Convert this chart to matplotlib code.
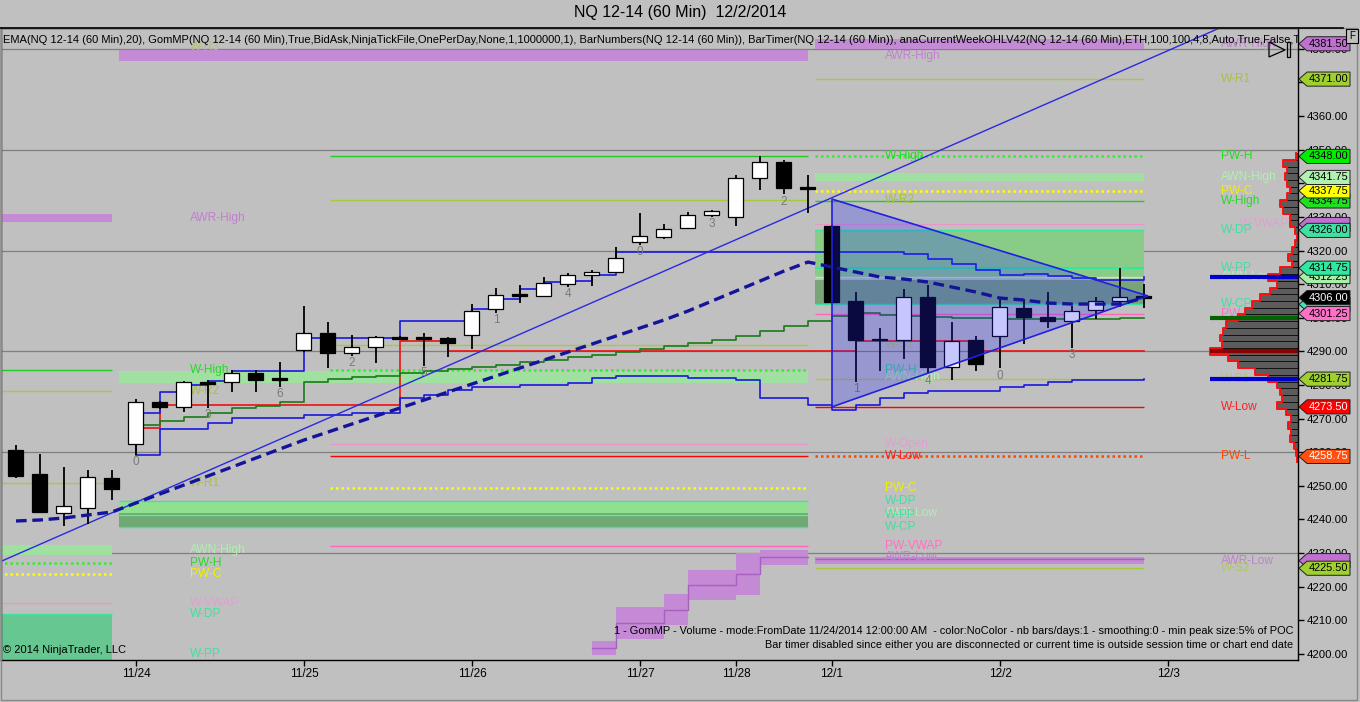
import numpy as np
import matplotlib
matplotlib.use('Agg')
import matplotlib.pyplot as plt
from matplotlib.patches import Rectangle, Polygon
from matplotlib.lines import Line2D
from matplotlib.transforms import blended_transform_factory

# ---------------- DATA ----------------
bar_open = [4260.75, 4253.5, 4242.0, 4243.5, 4252.25, 4262.5, 4275.0, 4273.5, 4281.0, 4281.0,
            4283.5, 4281.5, 4290.5, 4295.5, 4289.5, 4291.25, 4294.25, 4294.0, 4294.0, 4294.75,
            4302.5, 4306.75, 4306.5, 4310.0, 4312.75, 4313.5, 4322.5, 4324.0, 4326.75, 4330.5,
            4330.0, 4341.5, 4346.25, 4338.5, 4327.25, 4305.0, 4293.5, 4293.5, 4306.25, 4285.25,
            4293.25, 4294.5, 4303.0, 4300.25, 4299.0, 4302.25, 4305.0, 4306.25]
bar_high = [4262.25, 4259.5, 4255.5, 4254.75, 4254.75, 4275.75, 4275.25, 4281.25, 4281.5, 4284.5,
            4284.5, 4286.75, 4303.5, 4298.75, 4294.75, 4294.5, 4294.5, 4295.5, 4294.25, 4304.0,
            4308.75, 4309.75, 4312.0, 4313.25, 4314.25, 4321.0, 4331.25, 4327.75, 4331.5, 4332.0,
            4342.5, 4348.25, 4347.0, 4342.5, 4327.5, 4307.75, 4297.0, 4308.5, 4309.75, 4298.75,
            4294.5, 4306.0, 4305.5, 4307.75, 4303.5, 4306.25, 4314.75, 4310.0]
bar_low = [4252.25, 4242.0, 4238.0, 4238.75, 4245.75, 4259.25, 4273.0, 4272.0, 4273.25, 4278.0,
           4278.0, 4279.5, 4289.75, 4285.0, 4288.75, 4286.5, 4293.5, 4285.75, 4288.25, 4290.75,
           4301.5, 4304.5, 4306.25, 4309.25, 4309.5, 4313.25, 4321.75, 4323.5, 4326.5, 4330.0,
           4327.25, 4338.0, 4336.75, 4331.25, 4304.5, 4281.0, 4284.25, 4287.75, 4283.5, 4281.5,
           4284.25, 4285.0, 4292.25, 4297.0, 4291.0, 4299.75, 4303.25, 4303.0]
bar_close = [4253.0, 4242.25, 4244.0, 4252.75, 4249.0, 4275.0, 4273.5, 4281.0, 4280.25, 4283.5,
             4281.5, 4281.5, 4295.5, 4289.5, 4291.25, 4294.25, 4293.75, 4293.75, 4292.5, 4302.0,
             4306.75, 4306.5, 4310.25, 4312.75, 4313.5, 4317.75, 4324.25, 4326.5, 4330.5, 4331.75,
             4341.5, 4346.25, 4338.5, 4338.25, 4304.75, 4293.5, 4293.25, 4306.25, 4285.25, 4293.0,
             4286.25, 4303.25, 4300.25, 4299.0, 4302.0, 4305.0, 4306.25, 4306.0]

date_labels = ['11/24', '11/25', '11/26', '11/27', '11/28', '12/1', '12/2', '12/3']
date_bar_index = [5, 12, 19, 26, 30, 34, 41, 48]

ema20 = [4239.55, 4239.85, 4240.45, 4241.34, 4242.23, 4244.91, 4247.58, 4250.26, 4252.94, 4255.61,
         4258.29, 4260.97, 4263.64, 4266.02, 4268.40, 4270.78, 4273.16, 4275.54, 4277.92, 4280.30,
         4282.68, 4285.06, 4287.43, 4289.81, 4292.19, 4294.57, 4296.95, 4299.33, 4302.01, 4304.98,
         4307.96, 4310.93, 4313.90, 4316.58, 4315.09, 4313.60, 4312.12, 4311.52, 4310.63, 4309.14,
         4307.66, 4305.87, 4305.28, 4304.39, 4304.09, 4304.09, 4304.09, 4305.87]

# developing profile lines (GomMP), bars 5..47
dev_start_bar = 5
dev_vah = [4271.75, 4278.0, 4280.0, 4281.25, 4284.25, 4284.25, 4284.25, 4294.0, 4294.0, 4294.0,
           4294.0, 4299.0, 4299.0, 4299.0, 4302.5, 4305.5, 4308.5, 4310.75, 4311.0, 4312.75,
           4319.5, 4319.5, 4319.5, 4319.5, 4319.5, 4319.5, 4319.5, 4319.5, 4319.5, 4319.5,
           4319.5, 4319.5, 4319.0, 4317.5, 4316.0, 4314.25, 4312.75, 4313.0, 4312.5, 4311.75,
           4311.25, 4311.25, 4312.25]
dev_val = [4259.25, 4267.0, 4267.0, 4268.75, 4270.25, 4270.25, 4270.25, 4271.0, 4271.0, 4271.75,
           4271.75, 4276.25, 4277.0, 4278.5, 4279.5, 4279.5, 4280.0, 4280.0, 4280.5, 4282.0,
           4282.75, 4282.75, 4282.75, 4282.0, 4282.0, 4281.5, 4276.25, 4276.25, 4274.0, 4272.5,
           4274.0, 4276.25, 4277.5, 4278.25, 4278.25, 4278.25, 4279.5, 4280.0, 4281.0, 4281.5,
           4281.5, 4281.5, 4281.75]
dev_vwap = [4268.0, 4269.25, 4270.5, 4271.75, 4273.25, 4273.75, 4275.0, 4281.0, 4281.75, 4282.5,
            4282.75, 4283.5, 4284.25, 4284.75, 4285.25, 4286.0, 4286.75, 4287.5, 4288.25, 4289.0,
            4289.75, 4290.75, 4291.5, 4292.5, 4293.5, 4294.5, 4296.0, 4297.5, 4299.0, 4300.5,
            4301.5, 4300.75, 4300.5, 4300.25, 4300.0, 4300.0, 4299.5, 4299.5, 4299.5, 4299.5,
            4299.75, 4300.0, 4300.0]
dev_poc = [4267.25, 4274.0, 4274.0, 4274.0, 4274.0, 4274.0, 4274.0, 4274.0, 4274.0, 4274.0,
           4274.0, 4293.0, 4293.0, 4290.0, 4290.0, 4290.0, 4290.0, 4290.0, 4290.0, 4290.0,
           4290.0, 4290.0, 4290.0, 4290.0, 4290.0, 4290.0, 4290.0, 4290.0, 4290.0, 4290.0,
           4293.0, 4293.0, 4293.0, 4293.0, 4293.0, 4290.0, 4290.0, 4290.0, 4290.0, 4290.0,
           4290.0, 4290.0, 4290.0]

barnum_index = [5, 8, 11, 14, 17, 20, 23, 26, 29, 32, 35, 38, 41, 44]
barnum_text = ['0', '3', '6', '2', '5', '1', '4', '0', '3', '2', '1', '4', '0', '3']

profile_price = [4258, 4260, 4262, 4264, 4266, 4268, 4270, 4272, 4274, 4276, 4278, 4280, 4282,
                 4284, 4286, 4288, 4290, 4292, 4294, 4296, 4298, 4300, 4302, 4304, 4306, 4308,
                 4310, 4312, 4314, 4316, 4318, 4320, 4322, 4324, 4326, 4328, 4330, 4332, 4334,
                 4336, 4338, 4340, 4342, 4344, 4346, 4348]
profile_volume = [100, 200, 400, 800, 700, 1000, 700, 1200, 2100, 1600, 1800, 2100, 3000,
                  4300, 6000, 7000, 8800, 7600, 7800, 7500, 7200, 6000, 5300, 4600, 3800, 2800,
                  2100, 3000, 1800, 600, 1000, 600, 300, 100, 300, 800, 800, 1500, 1800,
                  1100, 800, 1100, 1300, 1100, 1500, 200]
profile_vah, profile_val, profile_vwap, profile_poc = 4312.25, 4281.75, 4300.0, 4290.0

awr_low_bar = [24, 25, 26, 27, 28, 29, 30, 31, 32]
awr_low_mid = [4201.8, 4209.1, 4209.1, 4213.2, 4220.5, 4220.5, 4223.8, 4228.7, 4228.7]
awr_low_half = [2.2, 4.75, 4.75, 4.5, 4.5, 4.5, 6.2, 2.2, 2.2]

left_names = ['AWR-High', 'W-High', 'W-R2', 'W-R1', 'AWN-High', 'PW-H', 'PW-C', 'W-VWAP', 'W-DP']
left_prices = [4329.75, 4284.5, 4278.25, 4250.75, 4231.0, 4227.0, 4223.75, 4215.25, 4212.0]
left_label_names = ['W-R3', 'W-PP']
left_label_prices = [4380.5, 4200.0]

mid_names = ['AWR-High', 'W-High', 'W-R2', 'W-S1', 'PW-H', 'AWN-High', 'W-Open', 'W-Low', 'PW-C',
             'W-DP', 'AWN-Low', 'W-PP', 'W-CP', 'PW-VWAP', 'AWR-Low']
mid_prices = [4378.0, 4348.0, 4335.0, 4292.0, 4284.5, 4282.5, 4262.5, 4258.75, 4249.5,
              4245.5, 4242.0, 4241.25, 4237.75, 4232.25, 4228.75]

right_names = ['AWR-High', 'W-R1', 'PW-H', 'AWN-High', 'PW-C', 'W-High', 'W-VWAP', 'W-DP', 'W-PP',
               'AWN-Low', 'W-CP', 'PW-VWAP', 'W-S1', 'W-Low', 'PW-L', 'AWR-Low', 'W-S2']
right_prices = [4381.5, 4371.0, 4348.0, 4341.75, 4337.75, 4334.75, 4327.75, 4326.0, 4314.75,
                4312.25, 4304.0, 4301.25, 4281.75, 4273.5, 4258.75, 4227.75, 4225.5]

tag_prices = [4381.5, 4371.0, 4348.0, 4334.75, 4337.75, 4341.75, 4327.75, 4326.0, 4312.25,
              4314.75, 4304.0, 4306.0, 4301.25, 4281.75, 4273.5, 4258.75, 4227.75, 4225.5]
tag_colors = ['#c070d0', '#a0d030', '#00ee00', '#22dd22', '#ffff00', '#b0f0b0', '#c070d0',
              '#40e0a0', '#a8f0a8', '#30e8a0', '#40e0c0', '#000000', '#ff70c8', '#a0d030',
              '#ff0000', '#ff5010', '#c070d0', '#a0d030']
tag_text_colors = ['black', 'black', 'black', 'black', 'black', 'black', '#c070d0',
                   'black', 'black', 'black', '#40e0c0', 'white', 'black', 'black',
                   'white', 'white', '#c070d0', 'black']

trend_bar = [-0.67, 49.96]
trend_price = [4227.4, 4385.6]
tri_bar = [34.0, 47.17, 34.0]
tri_price = [4335.3, 4306.5, 4273.5]

title = 'NQ 12-14 (60 Min)  12/2/2014'
indicator_text = ('EMA(NQ 12-14 (60 Min),20), GomMP(NQ 12-14 (60 Min),True,BidAsk,NinjaTickFile,'
                  'OnePerDay,None,1,1000000,1), BarNumbers(NQ 12-14 (60 Min)), BarTimer(NQ 12-14 '
                  '(60 Min)), anaCurrentWeekOHLV42(NQ 12-14 (60 Min),ETH,100,100,4,8,Auto,True,False,True')
gom_text = ('1 - GomMP - Volume - mode:FromDate 11/24/2014 12:00:00 AM  - color:NoColor - '
            'nb bars/days:1 - smoothing:0 - min peak size:5% of POC')
timer_text = ('Bar timer disabled since either you are disconnected or current time is outside '
              'session time or chart end date')
copyright_text = '\u00a9 2014 NinjaTrader, LLC'

# ---------------- STYLE / LAYOUT ----------------
W, H, DPI = 1360, 702, 100
BG = '#c0c0c0'
plt.rcParams['font.family'] = ['Liberation Sans', 'DejaVu Sans']

PURPLE = '#c48ad6'
LGREEN = '#a0e0a0'
GREEN = '#22cc22'
BGREEN = '#33ee33'
OLIVE = '#a8c840'
YELLOW = '#ffff00'
PINK = '#e898c8'
HPINK = '#ff66bb'
AQUA = '#40e0a0'
RED = '#ff0000'
ORED = '#ff4500'

label_color = {'AWR-High': '#c080d0', 'AWR-Low': '#c080d0', 'W-High': '#22dd22', 'PW-H': '#22dd22',
               'W-R1': '#a8c040', 'W-R2': '#a8c040', 'W-R3': '#b8c070', 'W-S1': '#b0c860',
               'W-S2': '#b0c860', 'AWN-High': '#b0f0b0', 'AWN-Low': '#b0f0b0', 'PW-C': '#f0f000',
               'W-DP': '#40e0a0', 'W-PP': '#40e0a0', 'W-CP': '#40e0a0', 'PW-VWAP': '#ff70c0',
               'W-VWAP': '#e0a0d0', 'W-Open': '#e0a0d0', 'W-Low': '#ff2020', 'PW-L': '#ff4500'}

fig = plt.figure(figsize=(W / DPI, H / DPI), dpi=DPI, facecolor=BG)
ax = fig.add_axes([1 / W, 1 - 660 / H, 1297 / W, 632 / H])
ax.set_facecolor(BG)
XL, XR = -0.625, 53.417
ax.set_xlim(XL, XR)
ax.set_ylim(4198.2, 4386.2)

# gridlines
for g in np.arange(4230, 4381, 30):
    ax.axhline(g, color='#808080', lw=0.9, zorder=1.0)


def hline(p, x0, x1, color, ls='-', lw=1.0, z=1.5):
    if ls == ':':
        ax.hlines(p, x0, x1, colors=color, linestyles=(0, (1, 1.2)), lw=1.8, zorder=z)
    else:
        ax.hlines(p, x0, x1, colors=color, linestyles=ls, lw=lw, zorder=z)


def band(lo, hi, x0, x1, color, z=1.2, alpha=1.0):
    ax.add_patch(Rectangle((x0, lo), x1 - x0, hi - lo, facecolor=color, edgecolor='none',
                           zorder=z, alpha=alpha))


def label(x, p, name, color=None):
    ax.text(x, p, name, color=color or label_color.get(name, 'gray'), fontsize=8.6, ha='left',
            va='center', zorder=1.9, clip_on=True)


# ---- previous week (left) ----
L0, L1 = -1.0, 4.0
lp = dict(zip(left_names, left_prices))
band(lp['AWR-High'] - 1.2, lp['AWR-High'] + 1.2, L0, L1, PURPLE)
hline(lp['W-High'], L0, L1, GREEN)
hline(lp['W-R2'], L0, L1, OLIVE)
hline(lp['W-R1'], L0, L1, OLIVE)
band(lp['AWN-High'] - 1.5, lp['AWN-High'] + 1.5, L0, L1, LGREEN)
hline(lp['PW-H'], L0, L1, BGREEN, ':')
hline(lp['PW-C'], L0, L1, YELLOW, ':')
hline(lp['W-VWAP'], L0, L1, PINK)
band(4190, lp['W-DP'], L0, L1, '#66c890')
hline(lp['W-DP'], L0, L1, AQUA)
for n, p in zip(left_names, left_prices):
    label(7.25, p, n)
for n, p in zip(left_label_names, left_label_prices):
    label(7.25, p, n)

# ---- week of 11/24 (middle) ----
M0, M0b, M1 = 4.3, 13.08, 33.0
mp = dict(zip(mid_names, mid_prices))
band(mp['AWR-High'] - 1.6, mp['AWR-High'] + 1.6, M0, M1, PURPLE)
hline(mp['W-High'], M0b, M1, GREEN)
hline(mp['W-R2'], M0b, M1, OLIVE)
hline(mp['W-S1'], M0b, M1, OLIVE)
band(mp['AWN-High'] - 1.8, mp['AWN-High'] + 1.8, M0, M1, LGREEN)
hline(mp['PW-H'], M0b, M1, BGREEN, ':')
hline(mp['W-Open'], M0b, M1, PINK)
hline(mp['W-Low'], M0b, M1, RED)
hline(mp['PW-C'], M0b, M1, YELLOW, ':')
band(mp['AWN-Low'], mp['W-DP'], M0, M1, '#90e090')
band(mp['W-CP'], mp['AWN-Low'], M0, M1, '#72a872')
hline(mp['W-DP'], M0, M1, AQUA)
hline(mp['W-PP'], M0, M1, '#50f0a0')
hline(mp['W-CP'], M0, M1, AQUA)
hline(mp['PW-VWAP'], M0b, M1, HPINK)
xs = list(awr_low_bar) + [M1]
mids = np.array(list(awr_low_mid) + [awr_low_mid[-1]])
halfs = np.array(list(awr_low_half) + [awr_low_half[-1]])
ax.fill_between(xs, mids - halfs, mids + halfs, step='post', color=PURPLE, lw=0, zorder=1.2)
ax.step(xs, mids, where='post', color='#a860c0', lw=1.0, zorder=1.3)
for n, p in zip(mid_names, mid_prices):
    label(36.2, p, n, '#30d890' if n == 'PW-H' else None)

# ---- current week (right) ----
R0, R1 = 33.3, 47.0
rp = dict(zip(right_names, right_prices))
band(rp['AWR-High'] - 1.5, rp['AWR-High'] + 1.5, R0, R1, PURPLE)
hline(rp['W-R1'], R0, R1, OLIVE)
hline(rp['PW-H'], R0, R1, BGREEN, ':')
band(rp['AWN-High'] - 1.2, rp['AWN-High'] + 1.2, R0, R1, LGREEN)
hline(rp['PW-C'], R0, R1, YELLOW, ':')
hline(rp['W-High'], R0, R1, GREEN)
hline(rp['W-VWAP'], R0, R1, PINK)
band(rp['AWN-Low'], rp['W-DP'], R0, R1, '#88cc88')
band(rp['W-CP'], rp['AWN-Low'] - 1.0, R0, R1, '#78a478')
hline(rp['W-DP'], R0, R1, AQUA)
hline(rp['W-PP'], R0, R1, '#30e8a0', lw=1.4)
hline(rp['AWN-Low'], R0, R1, '#b0f0b0')
hline(rp['W-CP'], R0, R1, AQUA)
hline(rp['PW-VWAP'], R0, R1, HPINK)
hline(rp['W-S1'], R0, R1, OLIVE)
hline(rp['W-Low'], R0, R1, RED)
hline(rp['PW-L'], R0, R1, ORED, ':')
band(rp['AWR-Low'] - 1.1, rp['AWR-Low'] + 1.1, R0, R1, PURPLE)
hline(rp['AWR-Low'] + 0.6, R0, R1, '#a860c0')
hline(rp['W-S2'], R0, R1, OLIVE)
for n, p in zip(right_names, right_prices):
    label(51.0 if n == 'W-VWAP' else 50.2, p, n)

# ---- volume profile on the right ----
vol = np.array(profile_volume, dtype=float)
pw = vol / vol.max() * (88 / 24)
pp = np.array(profile_price, dtype=float)
ax.barh(pp, pw, height=2.0, left=XR - pw, color='#5c5c5c', edgecolor='black', linewidth=0.5,
        zorder=2.2)
ox = np.repeat(XR - pw, 2)
oy = np.ravel(np.column_stack([pp - 1, pp + 1]))
ax.plot(ox, oy, color='#ff1010', lw=1.4, zorder=2.3)
px0 = XR - 88 / 24
for p, c in [(profile_vah, '#0000cc'), (profile_val, '#0000cc'), (profile_vwap, '#006400'),
             (profile_poc, '#8b0000')]:
    ax.hlines(p, px0, XR, colors=c, lw=3, zorder=2.4)

# ---- developing lines ----
dx = np.arange(dev_start_bar, dev_start_bar + len(dev_vah))
ax.step(dx, dev_poc, where='post', color='#ee1111', lw=1.2, zorder=2.5)
ax.step(dx, dev_vwap, where='post', color='#1a7a1a', lw=1.2, zorder=2.5)
ax.step(dx, dev_vah, where='post', color='#1818e0', lw=1.2, zorder=2.5)
ax.step(dx, dev_val, where='post', color='#1818e0', lw=1.2, zorder=2.5)
ax.vlines(dev_start_bar, dev_val[0], dev_vah[0], colors='#1818e0', lw=1.2, zorder=2.5)

# trend line
ax.axline((trend_bar[0], trend_price[0]), (trend_bar[1], trend_price[1]), color='#2a2ae0',
          lw=1.0, zorder=2.6)

# ---- candles ----
bw = 0.625
for i, (o, h, l, c) in enumerate(zip(bar_open, bar_high, bar_low, bar_close)):
    ax.vlines(i, l, h, colors='black', lw=1.3, zorder=3)
    lo, hi = min(o, c), max(o, c)
    hgt = max(hi - lo, 0.55)
    fc = 'white' if c > o else 'black'
    ax.add_patch(Rectangle((i - bw / 2, lo), bw, hgt, facecolor=fc, edgecolor='black',
                           lw=0.9, zorder=3.1))

for i, t in zip(barnum_index, barnum_text):
    ax.text(i, bar_low[i] - 0.4, t, color='#7a7a7a', fontsize=8.5, ha='center', va='top',
            zorder=3.2)

# triangle
tri = Polygon(list(zip(tri_bar, tri_price)), closed=True, facecolor='#2828ff', alpha=0.26,
              edgecolor='none', zorder=4)
ax.add_patch(tri)
ax.add_patch(Polygon(list(zip(tri_bar, tri_price)), closed=True, facecolor='none',
                     edgecolor='#2020e0', lw=1.2, zorder=4.5))

# EMA
ax.plot(np.arange(len(ema20)), ema20, color='#14149a', lw=2.4, ls=(0, (3.2, 1.7)), zorder=6)

# ---- texts in chart ----
ax.text(2 / 1297, (660 - 40) / 632, indicator_text, transform=ax.transAxes, fontsize=8.0,
        ha='left', va='center', color='black', zorder=7, clip_on=True)
ax.text(1292 / 1297, (660 - 631) / 632, gom_text, transform=ax.transAxes, fontsize=7.9,
        ha='right', va='center', color='black', zorder=7)
ax.text(1292 / 1297, (660 - 645) / 632, timer_text, transform=ax.transAxes, fontsize=7.8,
        ha='right', va='center', color='black', zorder=7)
ax.text(2 / 1297, (660 - 650) / 632, copyright_text, transform=ax.transAxes, fontsize=8,
        ha='left', va='center', color='black', zorder=7)

# small drawing object near top-right
ax.add_patch(Polygon([((1269 - 1) / 1297, (660 - 42) / 632), ((1285 - 1) / 1297, (660 - 50) / 632),
                      ((1269 - 1) / 1297, (660 - 57) / 632)], closed=True, facecolor='none',
                     edgecolor='black', lw=0.9, transform=ax.transAxes, zorder=8))
ax.add_patch(Rectangle(((1287 - 1) / 1297, (660 - 57) / 632), 3 / 1297, 15 / 632, facecolor='none',
                       edgecolor='black', lw=0.9, transform=ax.transAxes, zorder=8))

# ---- axes / ticks ----
ax.yaxis.tick_right()
yt = np.arange(4200, 4381, 10)
ax.set_yticks(yt)
ax.set_yticklabels([f'{v:.2f}' for v in yt])
ax.tick_params(axis='y', direction='out', length=4, width=1, colors='black', labelsize=8.2,
               pad=2)
ax.set_xticks(date_bar_index)
ax.set_xticklabels(date_labels)
ax.tick_params(axis='x', direction='out', length=4, width=1, colors='black', labelsize=8.5,
               pad=1.5)
for s in ax.spines.values():
    s.set_color('black')
    s.set_linewidth(1.0)

# price tags
trans = blended_transform_factory(ax.transAxes, ax.transData)


def fx(px):
    return (px - 1) / 1297


hh = 2.1
for k, (p, fc, tc) in enumerate(zip(tag_prices, tag_colors, tag_text_colors)):
    poly = Polygon([(fx(1299), p), (fx(1307), p + hh), (fx(1350), p + hh), (fx(1350), p - hh),
                    (fx(1307), p - hh)], closed=True, transform=trans, facecolor=fc,
                   edgecolor='#202020', lw=0.7, clip_on=False, zorder=20 + 2 * k)
    ax.add_patch(poly)
    ax.text(fx(1309), p, f'{p:.2f}', transform=trans, fontsize=7.9, color=tc, ha='left',
            va='center', clip_on=False, zorder=21 + 2 * k)

# ---- figure decorations ----
fig.text(0.5, 1 - 13 / H, title, ha='center', va='center', fontsize=11.5, color='black')
fig.add_artist(Line2D([0, 1343 / W], [1 - 28 / H, 1 - 28 / H], color='black', lw=1.2))
fig.add_artist(Rectangle((0.5 / W, 1 - 700 / H), 1356 / W, 672 / H, facecolor='none',
                         edgecolor='#888888', lw=1.0))
fig.add_artist(Rectangle((1346 / W, 1 - 43 / H), 12 / W, 14 / H, facecolor=BG,
                         edgecolor='black', lw=0.8))
fig.text(1352 / W, 1 - 36 / H, 'F', ha='center', va='center', fontsize=7, color='black')

fig.savefig('out.png', dpi=DPI, facecolor=BG)
